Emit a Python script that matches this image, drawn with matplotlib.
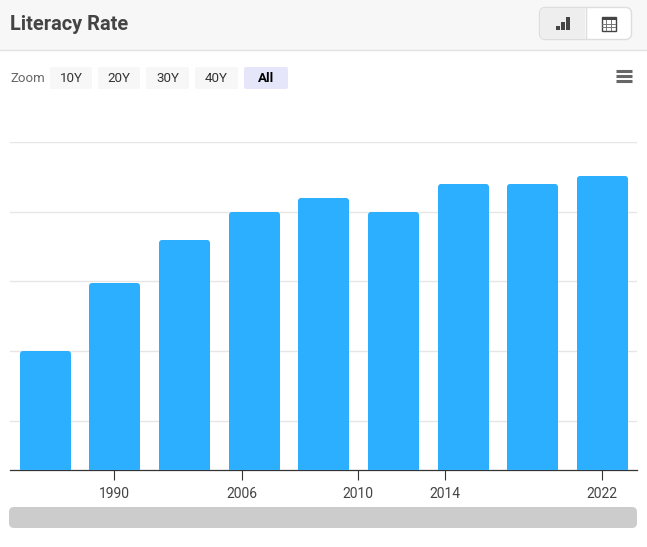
import matplotlib
matplotlib.use("Agg")
import matplotlib.pyplot as plt
from matplotlib.patches import FancyBboxPatch, PathPatch, Rectangle
from matplotlib.path import Path

plt.rcParams['font.family'] = ['Roboto', 'DejaVu Sans']

# bars have no labels of their own, the axis only shows a few years
values = [85, 89.9, 93, 95, 96, 95, 97, 97, 97.55]
tick_pos = [0.985, 2.82, 4.49, 5.74, 8]
tick_labels = ['1990', '2006', '2010', '2014', '2022']
grid_vals = [80, 85, 90, 95, 100]
zoom_labels = ['10Y', '20Y', '30Y', '40Y', 'All']

W, H = 647, 547
fig = plt.figure(figsize=(W / 100, H / 100), dpi=100)


def rounded(ax, x0, y0, x1, y1, r, fc, ec='none', lw=0):
    p = FancyBboxPatch((x0 + r, y0 + r), x1 - x0 - 2 * r, y1 - y0 - 2 * r,
                       boxstyle='round,pad=%f,rounding_size=%f' % (r, r),
                       fc=fc, ec=ec, lw=lw)
    ax.add_patch(p)


# chart itself, pixel box 10..637 / 142..470
ax = fig.add_axes([10 / W, 1 - 470 / H, 627 / W, 328 / H])
bars = ax.bar(range(len(values)), values, width=0.7325, color='#2caffe', zorder=3)
ax.set_xlim(-0.507, 8.498)
ax.set_ylim(76.47, 100)

# swap the square bar tops for slightly rounded ones (about 3px)
rx = 3 * (8.498 + 0.507) / 627
ry = 3 * (100 - 76.47) / 328
for b in bars:
    x0, x1 = b.get_x(), b.get_x() + b.get_width()
    top = b.get_height()
    verts = [(x0, 0), (x0, top - ry), (x0, top), (x0 + rx, top), (x1 - rx, top),
             (x1, top), (x1, top - ry), (x1, 0), (x0, 0)]
    codes = [Path.MOVETO, Path.LINETO, Path.CURVE3, Path.CURVE3, Path.LINETO,
             Path.CURVE3, Path.CURVE3, Path.LINETO, Path.CLOSEPOLY]
    ax.add_patch(PathPatch(Path(verts, codes), fc='#2caffe', ec='none', zorder=3, snap=True))
    b.set_visible(False)

ax.set_yticks(grid_vals)
ax.set_yticklabels([])
ax.tick_params(axis='y', length=0)
ax.grid(True, axis='y', color='#e6e6e6', lw=1, zorder=0)
ax.set_xticks(tick_pos)
ax.set_xticklabels(tick_labels, fontsize=10, color='#444444')
ax.tick_params(axis='x', length=7, width=0.8, color='#333333', pad=5.5)
for s in ['top', 'left', 'right']:
    ax.spines[s].set_visible(False)
ax.spines['bottom'].set_color('#333333')
ax.spines['bottom'].set_linewidth(0.9)

# page furniture around the chart, in pixels
ui = fig.add_axes([0, 0, 1, 1], zorder=-1)
ui.set_xlim(0, W)
ui.set_ylim(H, 0)
ui.axis('off')

ui.add_patch(Rectangle((0, 0), W, 50, fc='#f7f7f7', ec='none'))
ui.plot([0, W], [50, 50], color='#e2e2e2', lw=1)
ui.text(10, 25, 'Literacy Rate', fontsize=14.4, fontweight='bold', color='#444444', va='center')

# chart / table toggle
rounded(ui, 539.5, 7.5, 631.5, 39.5, 6, '#ffffff', '#dddddd', 1)
rounded(ui, 540, 8, 566, 39, 5, '#eeeeee')
ui.add_patch(Rectangle((560, 8), 25, 31, fc='#eeeeee', ec='none'))
ui.plot([585.5, 585.5], [8, 39], color='#dddddd', lw=1)
for x, top in [(556, 26), (561, 22), (566, 17)]:
    ui.add_patch(Rectangle((x, top), 3.6, 30 - top, fc='#444444', ec='none'))
ui.add_patch(Rectangle((601.5, 16.5), 14, 14, fc='white', ec='#444444', lw=1))
ui.add_patch(Rectangle((601.5, 16.5), 14, 3.5, fc='#444444', ec='none'))
for x in [606, 611]:
    ui.plot([x, x], [20, 30], color='#777777', lw=0.7)
for y in [23.5, 27]:
    ui.plot([602, 615], [y, y], color='#777777', lw=0.7)

# zoom row
ui.text(10, 78.5, 'Zoom', fontsize=9.5, color='#666666', va='center')
btn_left = [50, 98, 146, 195, 244]
btn_right = [92, 140, 189, 238, 288]
for lab, x0, x1 in zip(zoom_labels, btn_left, btn_right):
    active = lab == 'All'
    rounded(ui, x0, 67, x1, 89, 2, '#e6e6fa' if active else '#f7f7f7')
    ui.text((x0 + x1) / 2, 78.5, lab, fontsize=9.6, ha='center', va='center',
            color='#000000' if active else '#333333',
            fontweight='bold' if active else 'normal')

# hamburger
for y in [71, 76, 81]:
    ui.plot([616, 632], [y, y], color='#666666', lw=2.2, solid_capstyle='butt')

# scrollbar
rounded(ui, 9, 507, 637, 528, 5, '#cccccc')

plt.savefig('out.png', dpi=100)
